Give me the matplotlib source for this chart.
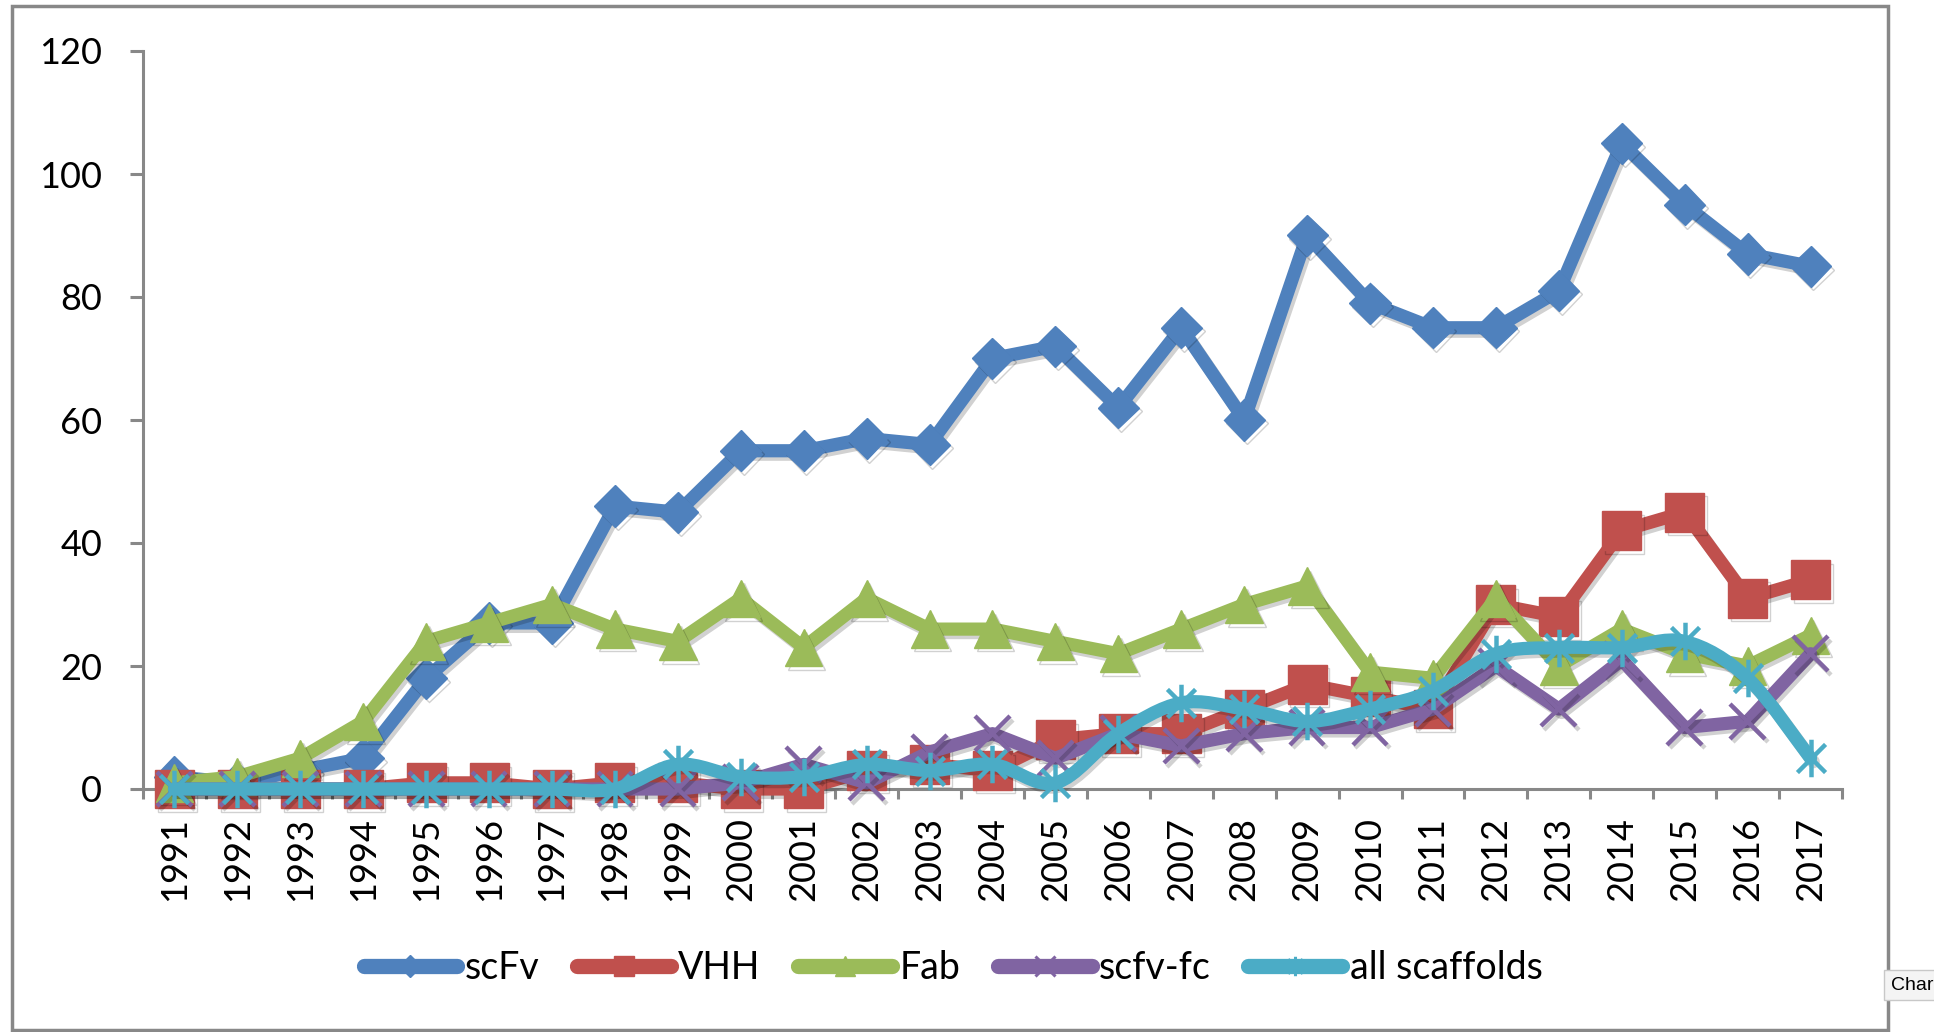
import numpy as np
import matplotlib
matplotlib.use("Agg")
import matplotlib.pyplot as plt
import matplotlib.patheffects as pe
from matplotlib.path import Path
from matplotlib.patches import PathPatch, Rectangle
from matplotlib.lines import Line2D
from matplotlib.ticker import FixedLocator, NullFormatter, FixedFormatter

# ---------------- data ----------------
years = [str(y) for y in range(1991, 2018)]
scfv = [2, 1, 3, 5, 18, 27, 27, 46, 45, 55, 55, 57, 56, 70, 72, 62, 75, 60, 90, 79, 75, 75, 81, 105, 95, 87, 85]
vhh = [0, 0, 0, 0, 1, 1, 0, 1, 1, 0, 0, 3, 4, 3, 8, 9, 9, 13, 17, 15, 13, 30, 28, 42, 45, 31, 34]
fab = [1, 2, 5, 11, 24, 27, 30, 26, 24, 31, 23, 31, 26, 26, 24, 22, 26, 30, 33, 19, 18, 31, 20, 26, 22, 20, 25]
scfv_fc = [0, 0, 0, 0, 0, 0, 0, 0, 0, 1, 4, 1, 6, 9, 5, 9, 7, 9, 10, 10, 13, 20, 13, 21, 10, 11, 22]
all_scaffolds = [0, 0, 0, 0, 0, 0, 0, 0, 4, 2, 2, 4, 3, 4, 1, 9, 14, 13, 11, 13, 16, 22, 23, 23, 24, 18, 5]
series_names = ["scFv", "VHH", "Fab", "scfv-fc", "all scaffolds"]
yticks = [0, 20, 40, 60, 80, 100, 120]

plt.rcParams["font.family"] = ["Lato", "DejaVu Sans"]

colors = ["#4F81BD", "#C0504D", "#9BBB59", "#8064A2", "#4BACC6"]
grey = "#888888"

W, H = 1934, 1032
fig = plt.figure(figsize=(W / 100, H / 100), dpi=100)
L, R, B, T = 143, 1842, 789, 51
ax = fig.add_axes([L / W, 1 - B / H, (R - L) / W, (B - T) / H])

x = np.arange(len(years))
LW = 9.5
shadow = [pe.SimpleLineShadow(offset=(2, -2.5), shadow_color="k", alpha=0.18), pe.Normal()]

# asterisk marker (vertical + X)
ast = Path([(0, -1), (0, 1), (-0.75, -0.75), (0.75, 0.75), (-0.75, 0.75), (0.75, -0.75)],
           [Path.MOVETO, Path.LINETO, Path.MOVETO, Path.LINETO, Path.MOVETO, Path.LINETO])

common = dict(lw=LW, solid_joinstyle="round", solid_capstyle="round", clip_on=False)
ax.plot(x, scfv, color=colors[0], marker="D", ms=21, mec=colors[0], path_effects=shadow, zorder=3, **common)
ax.plot(x, vhh, color=colors[1], marker="s", ms=28, mec=colors[1], path_effects=shadow, zorder=4, **common)
ax.plot(x, fab, color=colors[2], marker="^", ms=27, mec=colors[2], path_effects=shadow, zorder=5, **common)
ax.plot(x, scfv_fc, color=colors[3], marker="x", ms=25, mew=3.2, mec=colors[3], path_effects=shadow, zorder=6, **common)

# smoothed line for all scaffolds (Excel-style Bezier smoothing)
pts = np.column_stack([x, all_scaffolds]).astype(float)
n = len(pts)
verts = [pts[0]]
codes = [Path.MOVETO]
for i in range(n - 1):
    p0 = pts[max(i - 1, 0)]
    p1 = pts[i]
    p2 = pts[i + 1]
    p3 = pts[min(i + 2, n - 1)]
    c1 = p1 + (p2 - p0) / 6.0
    c2 = p2 - (p3 - p1) / 6.0
    verts += [c1, c2, p2]
    codes += [Path.CURVE4] * 3
patch = PathPatch(Path(verts, codes), facecolor="none", edgecolor=colors[4], lw=LW,
                  joinstyle="round", capstyle="round", clip_on=False, zorder=7,
                  path_effects=shadow)
ax.add_patch(patch)
ax.plot(x, all_scaffolds, ls="none", marker=ast, ms=27, mew=3.2, mec=colors[4], color=colors[4],
        clip_on=False, zorder=8)

# axes styling
ax.set_xlim(-0.5, len(years) - 0.5)
ax.set_ylim(0, 120)
for s in ["top", "right"]:
    ax.spines[s].set_visible(False)
for s in ["left", "bottom"]:
    ax.spines[s].set_color(grey)
    ax.spines[s].set_linewidth(2.2)
ax.set_yticks(yticks)
ax.set_yticklabels([str(v) for v in yticks])
ax.tick_params(axis="y", which="major", length=9.5, width=2.2, color=grey, pad=20, labelsize=26)
ax.xaxis.set_major_locator(FixedLocator(np.arange(-0.5, len(years), 1.0)))
ax.xaxis.set_major_formatter(NullFormatter())
ax.xaxis.set_minor_locator(FixedLocator(x))
ax.xaxis.set_minor_formatter(FixedFormatter(years))
ax.tick_params(axis="x", which="major", length=7.5, width=2.2, color=grey, direction="out")
ax.tick_params(axis="x", which="minor", length=0, pad=20, labelsize=26, labelrotation=90)
ax.set_facecolor("none")

# legend
handles = [
    Line2D([], [], color=colors[0], lw=11, marker="D", ms=11, solid_capstyle="round"),
    Line2D([], [], color=colors[1], lw=11, marker="s", ms=15, solid_capstyle="round"),
    Line2D([], [], color=colors[2], lw=11, marker="^", ms=15, solid_capstyle="round"),
    Line2D([], [], color=colors[3], lw=11, marker="x", ms=14, mew=2.2, solid_capstyle="round"),
    Line2D([], [], color=colors[4], lw=11, marker=ast, ms=14, mew=2.2, solid_capstyle="round"),
]
fig.legend(handles, series_names, loc="center", bbox_to_anchor=(953 / W, 1 - 968 / H),
           ncol=5, frameon=False, fontsize=27, handlelength=2.5, handletextpad=0.2,
           columnspacing=1.0)

# outer chart frame
fig.patches.append(Rectangle((12 / W, 2 / H), (1888 - 12) / W, (1028 - 4) / H,
                             transform=fig.transFigure, fill=False, edgecolor=grey, lw=2.5))

# tooltip fragment at bottom right
fig.text(1891 / W, 1 - 985 / H, "Char", fontsize=14, va="center", ha="left", family="Liberation Sans",
         bbox=dict(boxstyle="square,pad=0.35", facecolor="#f4f4f4", edgecolor="#c8c8c8", lw=1))

fig.savefig("out.png", dpi=100, facecolor="white")
